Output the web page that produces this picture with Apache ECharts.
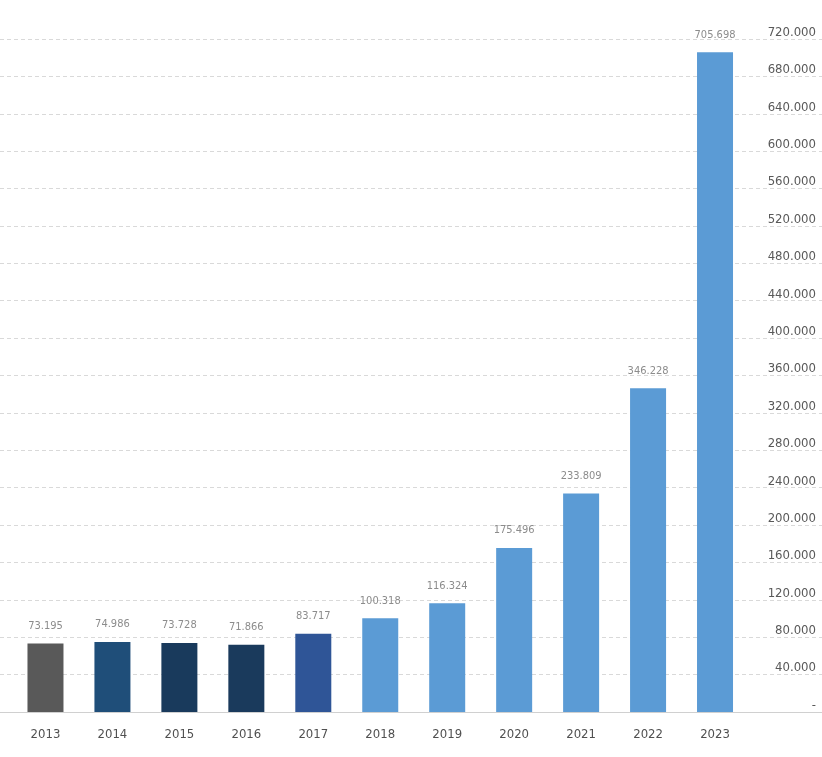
<!DOCTYPE html>
<html>
<head>
<meta charset="utf-8">
<script src="https://cdn.jsdelivr.net/npm/echarts@6/dist/echarts.min.js"></script>
<style>
  html, body { margin: 0; padding: 0; background: #fff; }
  #chart { width: 822px; height: 757px; }
</style>
</head>
<body>
<div id="chart"></div>
<script>
// data
const years = ["2013", "2014", "2015", "2016", "2017", "2018", "2019", "2020", "2021", "2022", "2023"];
const values = [73.195, 74.986, 73.728, 71.866, 83.717, 100.318, 116.324, 175.496, 233.809, 346.228, 705.698];
const barColors = ["#595959", "#1f4e79", "#193a5c", "#1a3a5c", "#2f5597", "#5b9bd5", "#5b9bd5", "#5b9bd5", "#5b9bd5", "#5b9bd5", "#5b9bd5"];
const yMax = 720;
const yStep = 40;

const FONT = "'DejaVu Sans Condensed', 'Liberation Sans Narrow', sans-serif";

const chart = echarts.init(document.getElementById("chart"));

const option = {
    backgroundColor: "#fff",
    animation: false,
    grid: [
        // bars
        { left: 12, right: 73.5, top: 39, bottom: 45 },
        // full-width grid lines and labels
        { left: 0, right: 0, top: 39, bottom: 45 },
    ],
    xAxis: [
        {
            type: "category",
            gridIndex: 0,
            data: years,
            axisLine: { show: false },
            axisTick: { show: false },
            axisLabel: {
                color: "#505050",
                fontSize: 13,
                fontFamily: FONT,
                margin: 16,
            },
        },
        {
            type: "value",
            gridIndex: 1,
            min: 0,
            max: 1,
            axisLine: { show: true, onZero: false, lineStyle: { color: "#d0d0d0", width: 1 } },
            axisTick: { show: false },
            axisLabel: { show: false },
            splitLine: { show: false },
        },
    ],
    yAxis: [
        {
            type: "value",
            gridIndex: 0,
            min: 0,
            max: yMax,
            interval: yStep,
            show: false,
        },
        {
            type: "value",
            gridIndex: 1,
            position: "right",
            min: 0,
            max: yMax,
            interval: yStep,
            axisLine: { show: false },
            axisTick: { show: false },
            axisLabel: {
                inside: true,
                margin: 6,
                verticalAlign: "bottom",
                color: "#595959",
                fontSize: 13,
                fontFamily: FONT,
                formatter: (v) => (v === 0 ? "-" : v + ".000"),
            },
            splitLine: {
                show: true,
                lineStyle: { type: [4, 3], color: "#d9d9d9", width: 1 },
            },
        },
    ],
    series: [
        {
            type: "bar",
            xAxisIndex: 0,
            yAxisIndex: 0,
            barWidth: 36,
            data: values.map((v, i) => ({ value: v, itemStyle: { color: barColors[i] } })),
            label: {
                show: true,
                position: "top",
                distance: 12,
                color: "#8c8c8c",
                fontSize: 11,
                fontFamily: FONT,
                formatter: (p) => p.value.toFixed(3),
            },
        },
    ],
};

chart.setOption(option);
</script>
</body>
</html>
